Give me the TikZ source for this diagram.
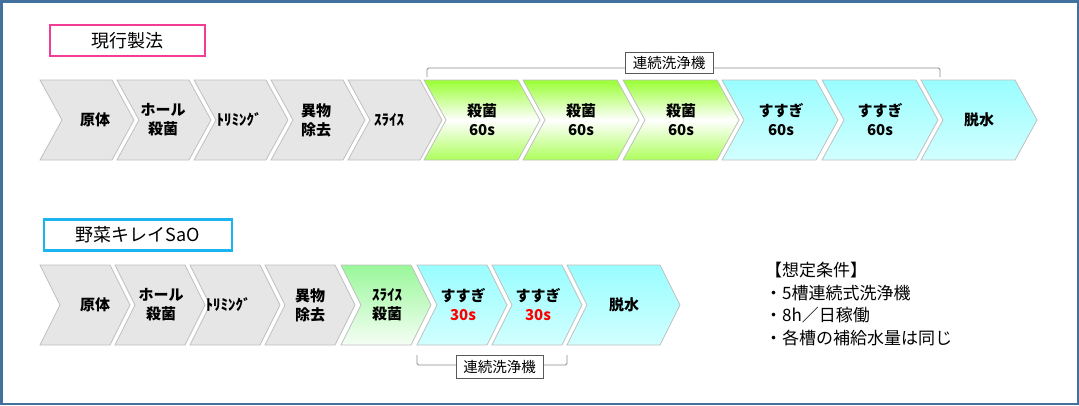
\documentclass[tikz,border=0pt]{standalone}
\usepackage{fontspec}
\setmainfont{Noto Sans CJK JP}
\usepackage{xcolor}
\usepackage{tikz}
\definecolor{grayfill}{HTML}{E6E6E6}
\definecolor{grayedge}{HTML}{BFBFBF}
\definecolor{limetop}{HTML}{99FF33}
\definecolor{minttop}{HTML}{99F799}
\definecolor{cyantop}{HTML}{99FDFF}
\definecolor{cyanbot}{HTML}{D2FFFF}
\definecolor{framecol}{HTML}{41719C}
\definecolor{pinkedge}{HTML}{F23C96}
\definecolor{blueedge}{HTML}{1AB4F0}
\definecolor{bracecol}{HTML}{8C8C8C}
\definecolor{labedge}{HTML}{595959}
\tikzset{
  chev/.style n args={2}{insert path={-- ++(#1,0) -- ++(#2,40) -- ++(-#2,40) -- ++(-#1,0) -- ++(#2,-40) -- cycle}},
  graystep/.style={draw=grayedge, line width=0.8pt, fill=grayfill},
  limestep/.style={draw=grayedge, line width=0.8pt, top color=limetop, bottom color=limetop!80!white, middle color=white},
  mintstep/.style={draw=grayedge, line width=0.8pt, top color=minttop, bottom color=minttop!10!white},
  cyanstep/.style={draw=grayedge, line width=0.8pt, top color=cyantop, bottom color=cyanbot},
  steptxt/.style={align=center, inner sep=0pt, font=\bfseries\fontsize{15}{19}\selectfont},
  headbox/.style={draw, line width=2.2pt, minimum width=#1, minimum height=31pt, inner sep=0pt, font=\fontsize{18}{20}\selectfont},
  washlab/.style={draw=labedge, fill=white, line width=0.8pt, minimum height=21pt, inner sep=0pt, font=\fontsize{14.5}{16}\selectfont},
  washbrace/.style={draw=bracecol, line width=0.8pt, rounded corners=1.5pt},
  cond/.style={anchor=base west, inner sep=0pt, font=\fontsize{17}{20}\selectfont}
}

\begin{document}
\begin{tikzpicture}[x=1pt, y=-1pt]
  \useasboundingbox (0,0) rectangle (1079,405);
  \draw[framecol, line width=2.5pt] (1.25,1.25) rectangle (1077.75,403.75);

  % current process
  \node[headbox=155pt, draw=pinkedge] (cur) at (127.5,40.5) {現行製法};

  \path[graystep] (40,80) [chev={72}{22}];
  \path[graystep] (117,80) [chev={72}{22}];
  \path[graystep] (194,80) [chev={72}{22}];
  \path[graystep] (271,80) [chev={72}{22}];
  \path[graystep] (348,80) [chev={72}{22}];
  \path[limestep] (424,80) [chev={94}{22}];
  \path[limestep] (523,80) [chev={94}{22}];
  \path[limestep] (623,80) [chev={94}{22}];
  \path[cyanstep] (722,80) [chev={94}{22}];
  \path[cyanstep] (822,80) [chev={94}{22}];
  \path[cyanstep] (921,80) [chev={94}{22}];

  \node[steptxt] (raw1) at (95,120) {原体};
  \node[steptxt] (whl1) at (163,120) {ホール\\殺菌};
  \node[steptxt] (trm1) at (239,120) {ﾄﾘﾐﾝｸﾞ};
  \node[steptxt] (frg1) at (316,120) {異物\\除去};
  \node[steptxt] (slc1) at (389,120) {ｽﾗｲｽ};
  \node[steptxt] (ster1) at (482,120) {殺菌\\60s};
  \node[steptxt] (ster2) at (581,120) {殺菌\\60s};
  \node[steptxt] (ster3) at (681,120) {殺菌\\60s};
  \node[steptxt] (rin1) at (781,120) {すすぎ\\60s};
  \node[steptxt] (rin2) at (880,120) {すすぎ\\60s};
  \node[steptxt] (dry1) at (979,120) {脱水};

  \coordinate (wa) at (427,77);
  \coordinate (wb) at (940,77);
  \draw[washbrace] (wa) -- ++(0,-9) -| (wb);
  \node[washlab, minimum width=88pt] (wash1) at (669,62.5) {連続洗浄機};

  % new process
  \node[headbox=188pt, draw=blueedge] (sao) at (138,235) {野菜キレイSaO};

  \path[graystep] (40,265) [chev={70}{20}];
  \path[graystep] (115,265) [chev={70}{20}];
  \path[graystep] (190,265) [chev={70}{20}];
  \path[graystep] (265,265) [chev={70}{20}];
  \path[mintstep] (341,265) [chev={70}{20}];
  \path[cyanstep] (417,265) [chev={70}{20}];
  \path[cyanstep] (492,265) [chev={70}{20}];
  \path[cyanstep] (567,265) [chev={93}{20}];

  \node[steptxt] (raw2) at (95,305) {原体};
  \node[steptxt] (whl2) at (161,305) {ホール\\殺菌};
  \node[steptxt] (trm2) at (228,305) {ﾄﾘﾐﾝｸﾞ};
  \node[steptxt] (frg2) at (310,305) {異物\\除去};
  \node[steptxt] (slc2) at (387,305) {ｽﾗｲｽ\\殺菌};
  \node[steptxt] (rin3) at (463,305) {すすぎ\\\textcolor{red}{30s}};
  \node[steptxt] (rin4) at (538,305) {すすぎ\\\textcolor{red}{30s}};
  \node[steptxt] (dry2) at (624,305) {脱水};

  \coordinate (wc) at (417,355);
  \coordinate (wd) at (567,355);
  \draw[washbrace] (wc) -- ++(0,10) -| (wd);
  \node[washlab, minimum width=87pt, minimum height=23pt] (wash2) at (499.5,366.5) {連続洗浄機};

  % conditions
  \node[cond] (cnd1) at (765,276.5) {【想定条件】};
  \node[cond] (cnd2) at (765,299) {・5槽連続式洗浄機};
  \node[cond] (cnd3) at (765,321.5) {・8h／日稼働};
  \node[cond] (cnd4) at (765,344) {・各槽の補給水量は同じ};
\end{tikzpicture}
\end{document}
